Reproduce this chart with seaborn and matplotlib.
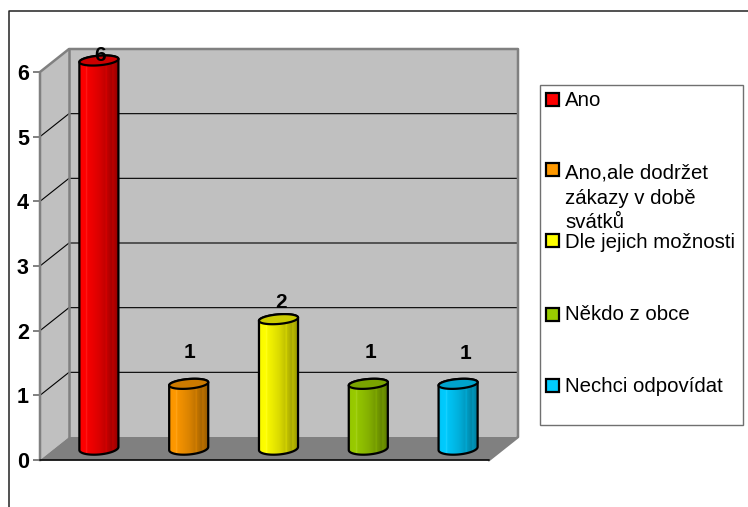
import numpy as np
import pandas as pd
import matplotlib
matplotlib.use("Agg")
import matplotlib.pyplot as plt
import seaborn as sns
from matplotlib.patches import Polygon, Rectangle, PathPatch
from matplotlib.path import Path
from matplotlib.transforms import IdentityTransform, ScaledTranslation
from matplotlib.lines import Line2D
from matplotlib.colors import to_rgb

categories = ["Ano", "Ano,ale dodržet zákazy v době svátků", "Dle jejich možnosti", "Někdo z obce", "Nechci odpovídat"]
values = [6, 1, 2, 1, 1]
colors = ["#FF0000", "#FF9900", "#FFFF00", "#99CC00", "#00CCFF"]
legend_labels = ["Ano", "Ano,ale dodržet\nzákazy v době\nsvátků", "Dle jejich možnosti", "Někdo z obce", "Nechci odpovídat"]
yticks = [0, 1, 2, 3, 4, 5, 6]

W, H = 748, 507
sns.set_theme(style="white")
plt.rcParams["font.family"] = ["Liberation Sans", "DejaVu Sans"]
fig = plt.figure(figsize=(W / 100, H / 100), dpi=100, facecolor="white")
ax = fig.add_axes([40 / W, 1 - 460 / H, 449 / W, 388 / H])
ident = IdentityTransform()

df = pd.DataFrame({"cat": categories, "val": values})
sns.barplot(data=df, x="cat", y="val", hue="cat", palette=colors, width=0.435,
            dodge=False, legend=False, ax=ax, linewidth=0, zorder=3)
ax.set_xlim(-0.5, 4.5)
ax.set_ylim(0, 6)
ax.set_xlabel("")
ax.set_ylabel("")
ax.patch.set_visible(False)
for s in ax.spines.values():
    s.set_visible(False)
ax.set_xticks([])
ax.set_yticks(yticks)
ax.set_yticklabels([str(t) for t in yticks], fontsize=15.5, fontweight="bold", color="black")
ax.tick_params(axis="y", left=True, length=5, width=1.4, color="#808080", pad=3)
for lbl in ax.get_yticklabels():
    lbl.set_y(lbl.get_position()[1])
fig.canvas.draw()

BACK = (29, 23)
MID = (14, 11.5)
T = ax.transData
x_l, x_r = -0.5, 4.5

def D(x, y, off=(0, 0)):
    p = T.transform((x, y))
    return (p[0] + off[0], p[1] + off[1])

# outer frame
fig.add_artist(Line2D([9 / W, 9 / W, 1], [0, 1 - 11 / H, 1 - 11 / H], color="#222222", lw=1.1))

# walls and floor
ax.add_patch(Polygon([D(x_l, 0, BACK), D(x_l, 6, BACK), D(x_r, 6, BACK), D(x_r, 0, BACK)],
                     closed=True, transform=ident, fc="#C0C0C0", ec="none", zorder=0.5, clip_on=False))
ax.add_patch(Polygon([D(x_l, 0), D(x_l, 6), D(x_l, 6, BACK), D(x_l, 0, BACK)],
                     closed=True, transform=ident, fc="#C0C0C0", ec="none", zorder=0.5, clip_on=False))
ax.add_patch(Polygon([D(x_l, 0), D(x_l, 0, BACK), D(x_r, 0, BACK), D(x_r, 0)],
                     closed=True, transform=ident, fc="#808080", ec="none", zorder=0.6, clip_on=False))
for v in yticks[1:-1]:
    a, b, c = D(x_l, v), D(x_l, v, BACK), D(x_r, v, BACK)
    ax.add_line(Line2D([a[0], b[0], c[0]], [a[1], b[1], c[1]], transform=ident, color="#000000",
                       lw=0.8, zorder=0.8, clip_on=False))
edge = dict(transform=ident, color="#808080", lw=1.8, zorder=1, clip_on=False, solid_capstyle="projecting")
a, b, c, d, e = D(x_l, 0), D(x_l, 6), D(x_l, 6, BACK), D(x_r, 6, BACK), D(x_r, 0, BACK)
f = D(x_r, 0)
ax.add_line(Line2D([a[0], b[0], c[0], d[0], e[0], f[0]], [a[1], b[1], c[1], d[1], e[1], f[1]], **edge))
g = D(x_l, 0, BACK)
ax.add_line(Line2D([c[0], g[0]], [c[1], g[1]], **edge))
ax.add_line(Line2D([a[0], f[0]], [a[1], f[1]], transform=ident, color="#111111", lw=1.3, zorder=1.2, clip_on=False))

# cylinders
stops_x = [0, 0.05, 0.17, 0.19, 0.21, 0.5, 0.66, 0.68, 0.70, 0.82, 0.84, 1]
stops_f = [0.9, 0.98, 1.0, 1.12, 0.97, 0.86, 0.76, 0.88, 0.76, 0.66, 0.74, 0.55]
SLOPE, B_BOT, B_TOP = 0.08, 6.0, 4.8


def half(cx, cy, a, b, start, end):
    t = np.linspace(start, end, 40)
    return np.column_stack([cx - a * np.cos(t), cy - b * np.sin(t) - SLOPE * a * np.cos(t)])


label_offsets = [-5, -31, -17, -31, -30]
label_dx = [1, 1, 3, 2, 7]
for patch, val, col, loff, ldx in zip(ax.patches, values, colors, label_offsets, label_dx):
    x0, w = patch.get_x(), patch.get_width()
    patch.set_transform(T + ScaledTranslation(MID[0] / 100, MID[1] / 100, fig.dpi_scale_trans))
    patch.set_clip_on(False)
    xl = D(x0, 0, MID)[0]
    xr = D(x0 + w, 0, MID)[0]
    ybot = D(x0, 0, MID)[1]
    ytop = D(x0, val, MID)[1]
    cx, a_ = (xl + xr) / 2, (xr - xl) / 2
    lower = half(cx, ybot, a_, B_BOT, 0, np.pi)
    upper = half(cx, ytop, a_, B_TOP, np.pi, 2 * np.pi)
    body = np.vstack([lower, upper])
    body_path = Path(np.vstack([body, body[0]]), closed=True)
    u = np.linspace(0, 1, 200)
    fac = np.interp(u, stops_x, stops_f)
    rgb = np.array(to_rgb(col))
    grad = np.clip(np.where(fac[:, None] <= 1, rgb * fac[:, None], rgb + (1 - rgb) * (fac[:, None] - 1) * 1.4), 0, 1)
    im = ax.imshow(grad[None, :, :], extent=(xl, xr, ybot - 10, ytop + 10), aspect="auto",
                   transform=ident, zorder=3.2, interpolation="bilinear")
    im.set_clip_box(fig.bbox)
    im.set_clip_path(body_path, ident)
    ax.add_patch(PathPatch(body_path, transform=ident, fc="none", ec="black", lw=1.6, zorder=3.4, clip_on=False))
    capt = np.linspace(0, 2 * np.pi, 80)
    cap = np.column_stack([cx - a_ * np.cos(capt), ytop - B_TOP * np.sin(capt) - SLOPE * a_ * np.cos(capt)])
    ax.add_patch(Polygon(cap, closed=True, transform=ident, fc=tuple(rgb * 0.8), ec="black", lw=1.6,
                         zorder=3.5, clip_on=False))
    ax.text(cx + ldx, ytop - loff, str(val), transform=ident, ha="center", va="center",
            fontsize=15, fontweight="bold", color="black", zorder=4, clip_on=False)

ax.set_xlim(-0.5, 4.5)
ax.set_ylim(0, 6)

# legend
fig.add_artist(Rectangle((540 / W, 1 - 425 / H), 203 / W, 340 / H, transform=fig.transFigure,
                         fc="white", ec="#707070", lw=1))
swatch_y = [99, 169, 241, 314, 385]
text_y = [100, 173, 243, 315, 386]
for lab, col, sy, ty in zip(legend_labels, colors, swatch_y, text_y):
    fig.add_artist(Rectangle((545.5 / W, 1 - (sy + 6.5) / H), 13 / W, 13 / H, transform=fig.transFigure,
                             fc=col, ec="black", lw=1.6))
    for i, line in enumerate(lab.split("\n")):
        fig.text(565 / W, 1 - (ty + i * 25) / H, line, ha="left", va="center", fontsize=14.7, color="black")

fig.savefig("out.png", dpi=100, facecolor="white")
